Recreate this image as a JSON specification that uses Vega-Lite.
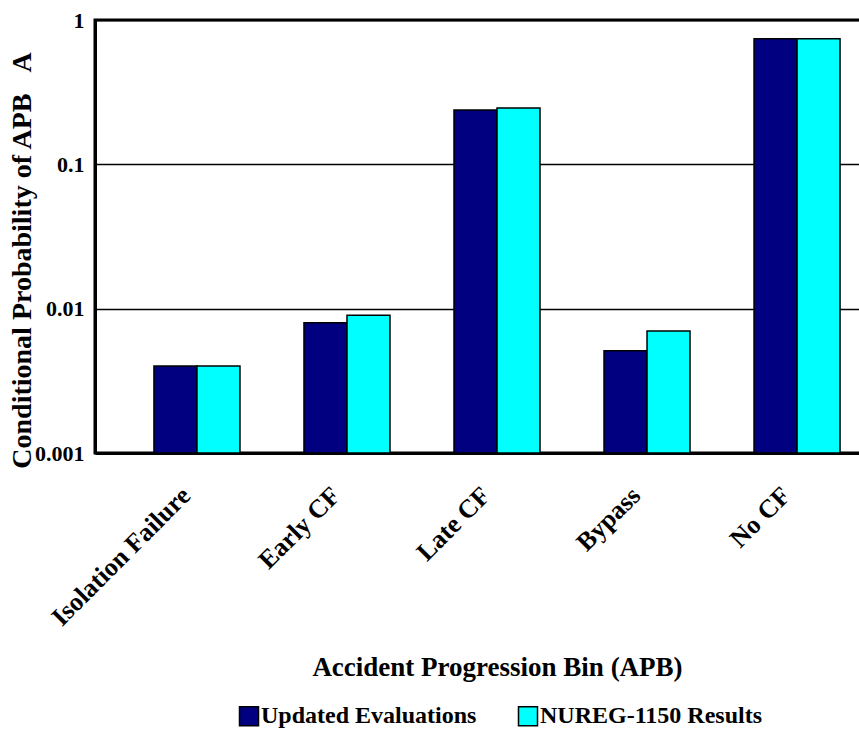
{
  "$schema": "https://vega.github.io/schema/vega-lite/v6.json",
  "width": 804,
  "height": 433,
  "autosize": {"type": "none"},
  "padding": {"left": 95, "top": 20, "right": 0, "bottom": 277},
  "background": "white",
  "config": {
    "font": "Liberation Serif",
    "view": {"stroke": "black", "strokeWidth": 3}
  },
  "data": {
    "values": [
      {"bin": "Isolation Failure", "series": "Updated Evaluations", "p": 0.004},
      {"bin": "Isolation Failure", "series": "NUREG-1150 Results", "p": 0.004},
      {"bin": "Early CF", "series": "Updated Evaluations", "p": 0.008},
      {"bin": "Early CF", "series": "NUREG-1150 Results", "p": 0.009},
      {"bin": "Late CF", "series": "Updated Evaluations", "p": 0.238},
      {"bin": "Late CF", "series": "NUREG-1150 Results", "p": 0.246},
      {"bin": "Bypass", "series": "Updated Evaluations", "p": 0.0051},
      {"bin": "Bypass", "series": "NUREG-1150 Results", "p": 0.007},
      {"bin": "No CF", "series": "Updated Evaluations", "p": 0.74},
      {"bin": "No CF", "series": "NUREG-1150 Results", "p": 0.74}
    ]
  },
  "mark": {"type": "bar", "stroke": "black", "strokeWidth": 1.5},
  "encoding": {
    "x": {
      "field": "bin",
      "type": "nominal",
      "sort": ["Isolation Failure", "Early CF", "Late CF", "Bypass", "No CF"],
      "scale": {"paddingInner": 0.4267, "paddingOuter": 0.393},
      "axis": {
        "title": "Accident Progression Bin (APB)",
        "titleFontSize": 27,
        "titleFontWeight": "bold",
        "titleColor": "black",
        "titlePadding": 24,
        "labelAngle": -45,
        "labelFontSize": 26,
        "labelFontWeight": "bold",
        "labelColor": "black",
        "labelPadding": 29,
        "labelOffset": -20,
        "labelLimit": 400,
        "ticks": false,
        "domainColor": "black",
        "domainWidth": 3
      }
    },
    "xOffset": {"field": "series", "sort": ["Updated Evaluations", "NUREG-1150 Results"]},
    "y": {
      "field": "p",
      "type": "quantitative",
      "scale": {"type": "log", "domain": [0.001, 1]},
      "axis": {
        "title": "Conditional Probability of APB\u00a0\u00a0\u00a0A",
        "titleFontSize": 28,
        "titleFontWeight": "bold",
        "titleColor": "black",
        "titlePadding": -2,
        "titleY": 240,
        "values": [0.001, 0.01, 0.1, 1],
        "format": "~g",
        "labelFontSize": 22,
        "labelFontWeight": "bold",
        "labelColor": "black",
        "labelPadding": 11,
        "ticks": false,
        "domainColor": "black",
        "domainWidth": 3,
        "grid": true,
        "gridColor": "black",
        "gridWidth": 1.5,
        "gridOpacity": 1
      }
    },
    "y2": {"datum": 0.001},
    "color": {
      "field": "series",
      "type": "nominal",
      "scale": {"domain": ["Updated Evaluations", "NUREG-1150 Results"], "range": ["#000080", "#00FFFF"]},
      "legend": {
        "title": null,
        "orient": "none",
        "legendX": 142,
        "legendY": 684,
        "direction": "horizontal",
        "symbolType": "square",
        "symbolSize": 361,
        "symbolStrokeColor": "black",
        "symbolStrokeWidth": 1.5,
        "symbolOpacity": 1,
        "labelFontSize": 24,
        "labelFontWeight": "bold",
        "labelColor": "black",
        "labelLimit": 400,
        "labelOffset": 0,
        "columnPadding": 38
      }
    }
  }
}
